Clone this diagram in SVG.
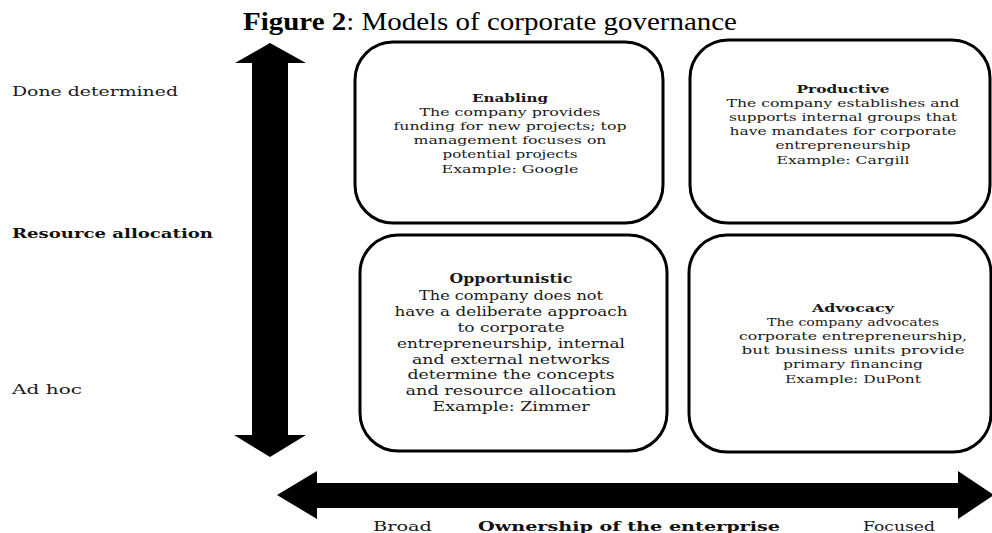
<svg xmlns="http://www.w3.org/2000/svg" width="992" height="533" viewBox="0 0 992 533">
  <style>
    .bg { fill: #ffffff; }
    .box { fill: #ffffff; stroke: #000000; stroke-width: 3; }
    .arrow { fill: #000000; stroke: none; }
    .title { font-family: "Liberation Serif", "Times New Roman", serif; font-size: 25px; fill: #000000; }
    .title .b { font-weight: bold; }
    .t { font-family: "DejaVu Serif", "Liberation Serif", serif; font-size: 11.5px; fill: #1a1a1a; text-anchor: middle; }
    .tl { font-family: "DejaVu Serif", "Liberation Serif", serif; font-size: 13px; fill: #1a1a1a; text-anchor: middle; }
    .hd { font-weight: bold; }
    .lab { font-family: "DejaVu Serif", "Liberation Serif", serif; font-size: 12.5px; fill: #1a1a1a; }
    .labb { font-family: "DejaVu Serif", "Liberation Serif", serif; font-size: 12px; font-weight: bold; fill: #111111; }
  </style>

  <rect class="bg" x="0" y="0" width="992" height="533"/>

  <text class="title" x="243" y="30" textLength="494" lengthAdjust="spacingAndGlyphs"><tspan class="b">Figure 2</tspan>: Models of corporate governance</text>

  <!-- axes -->
  <g id="connectors">
    <!-- vertical double arrow: resource allocation -->
    <polygon class="arrow" points="270,43 306,63 288,63 288,435 306,435 270,457 234,435 252,435 252,63 235,63"/>
    <!-- horizontal double arrow: ownership of the enterprise -->
    <polygon class="arrow" points="277,495 317,471 317,483 958,483 958,471 994,495 958,519 958,508 317,508 317,519"/>
  </g>

  <!-- axis labels -->
  <g id="axis-labels">
    <text class="lab" x="12" y="96" textLength="166" lengthAdjust="spacingAndGlyphs">Done determined</text>
    <text class="labb" x="12" y="238" textLength="201" lengthAdjust="spacingAndGlyphs">Resource allocation</text>
    <text class="lab" x="12" y="394" textLength="70" lengthAdjust="spacingAndGlyphs">Ad hoc</text>
    <text class="lab" x="373" y="531" textLength="59" lengthAdjust="spacingAndGlyphs">Broad</text>
    <text class="labb" x="478" y="531" textLength="302" lengthAdjust="spacingAndGlyphs">Ownership of the enterprise</text>
    <text class="lab" x="863" y="531" textLength="72" lengthAdjust="spacingAndGlyphs">Focused</text>
  </g>

  <g id="enabling">
    <rect class="box" x="355" y="42" width="308" height="181" rx="38" ry="38"/>
    <text class="t hd" x="510" y="102" textLength="76" lengthAdjust="spacingAndGlyphs">Enabling</text>
    <text class="t" x="510" y="116" textLength="181" lengthAdjust="spacingAndGlyphs">The company provides</text>
    <text class="t" x="510" y="130" textLength="233" lengthAdjust="spacingAndGlyphs">funding for new projects; top</text>
    <text class="t" x="510" y="144" textLength="193" lengthAdjust="spacingAndGlyphs">management focuses on</text>
    <text class="t" x="510" y="158" textLength="135" lengthAdjust="spacingAndGlyphs">potential projects</text>
    <text class="t" x="510" y="173" textLength="137" lengthAdjust="spacingAndGlyphs">Example: Google</text>
  </g>

  <g id="productive">
    <rect class="box" x="690" y="40" width="300" height="183" rx="38" ry="38"/>
    <text class="t hd" x="843" y="93" textLength="93" lengthAdjust="spacingAndGlyphs">Productive</text>
    <text class="t" x="843" y="107" textLength="233" lengthAdjust="spacingAndGlyphs">The company establishes and</text>
    <text class="t" x="843" y="121" textLength="228" lengthAdjust="spacingAndGlyphs">supports internal groups that</text>
    <text class="t" x="843" y="135" textLength="227" lengthAdjust="spacingAndGlyphs">have mandates for corporate</text>
    <text class="t" x="843" y="149" textLength="135" lengthAdjust="spacingAndGlyphs">entrepreneurship</text>
    <text class="t" x="843" y="164" textLength="133" lengthAdjust="spacingAndGlyphs">Example: Cargill</text>
  </g>

  <g id="opportunistic">
    <rect class="box" x="360" y="235" width="307" height="216" rx="38" ry="38"/>
    <text class="tl hd" x="511" y="283" textLength="123" lengthAdjust="spacingAndGlyphs">Opportunistic</text>
    <text class="tl" x="511" y="300" textLength="184" lengthAdjust="spacingAndGlyphs">The company does not</text>
    <text class="tl" x="511" y="316" textLength="233" lengthAdjust="spacingAndGlyphs">have a deliberate approach</text>
    <text class="tl" x="511" y="332" textLength="107" lengthAdjust="spacingAndGlyphs">to corporate</text>
    <text class="tl" x="511" y="348" textLength="228" lengthAdjust="spacingAndGlyphs">entrepreneurship, internal</text>
    <text class="tl" x="511" y="364" textLength="198" lengthAdjust="spacingAndGlyphs">and external networks</text>
    <text class="tl" x="511" y="379" textLength="207" lengthAdjust="spacingAndGlyphs">determine the concepts</text>
    <text class="tl" x="511" y="395" textLength="211" lengthAdjust="spacingAndGlyphs">and resource allocation</text>
    <text class="tl" x="511" y="411" textLength="157" lengthAdjust="spacingAndGlyphs">Example: Zimmer</text>
  </g>

  <g id="advocacy">
    <rect class="box" x="689" y="235" width="302" height="217" rx="38" ry="38"/>
    <text class="t hd" x="853" y="312" textLength="82" lengthAdjust="spacingAndGlyphs">Advocacy</text>
    <text class="t" x="853" y="326" textLength="172" lengthAdjust="spacingAndGlyphs">The company advocates</text>
    <text class="t" x="853" y="340" textLength="228" lengthAdjust="spacingAndGlyphs">corporate entrepreneurship,</text>
    <text class="t" x="853" y="354" textLength="223" lengthAdjust="spacingAndGlyphs">but business units provide</text>
    <text class="t" x="853" y="368" textLength="140" lengthAdjust="spacingAndGlyphs">primary financing</text>
    <text class="t" x="853" y="383" textLength="136" lengthAdjust="spacingAndGlyphs">Example: DuPont</text>
  </g>
</svg>
